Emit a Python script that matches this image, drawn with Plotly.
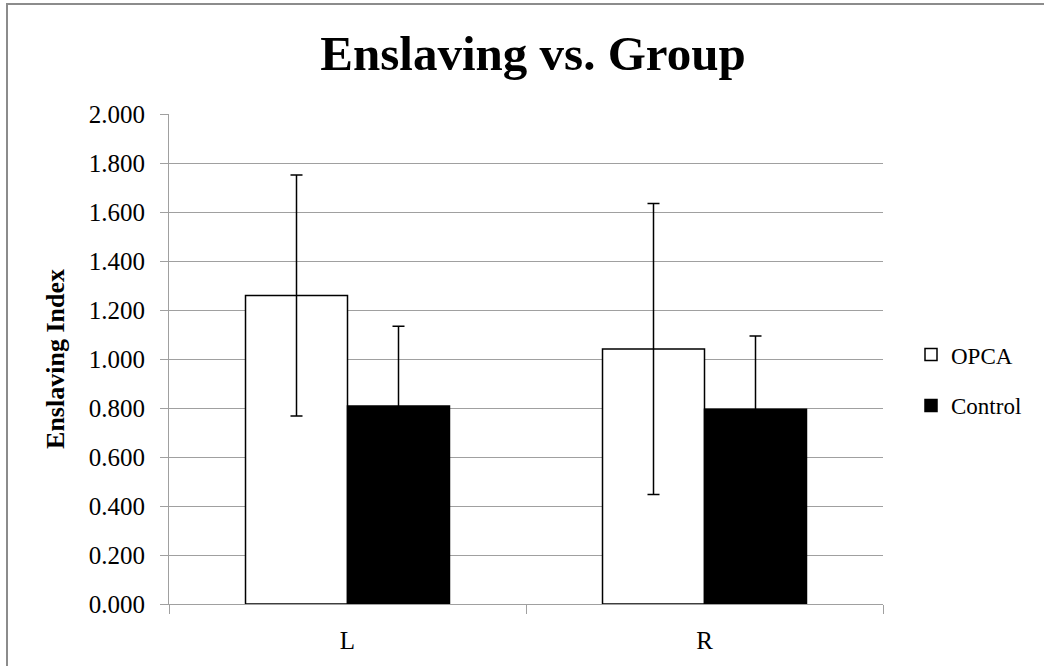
import plotly.graph_objects as go

categories = ["L", "R"]
opca_values = [1.259, 1.041]
opca_errors = [0.492, 0.594]
control_values = [0.808, 0.795]
control_errors = [0.326, 0.299]
y_ticks = [0.0, 0.2, 0.4, 0.6, 0.8, 1.0, 1.2, 1.4, 1.6, 1.8, 2.0]

FONT = "Liberation Serif"
W, H = 1044, 666
L, T, R, B = 169, 114, W - 883, H - 604
PW, PH = W - L - R, H - T - B

fig = go.Figure()
fig.add_trace(go.Bar(
    name="OPCA", x=categories, y=opca_values, legendgroup="a",
    marker=dict(color="white", line=dict(color="black", width=1.5)),
    error_y=dict(type="data", array=opca_errors, visible=True, color="black", thickness=1.5, width=6),
))
fig.add_trace(go.Bar(
    name="Control", x=categories, y=control_values, legendgroup="b",
    marker=dict(color="black", line=dict(color="black", width=1.5)),
    error_y=dict(type="data", array=control_errors, visible=True, color="black", thickness=1.5, width=6),
))

fig.update_layout(
    width=W, height=H,
    margin=dict(l=L, r=R, t=T, b=B),
    paper_bgcolor="white", plot_bgcolor="white",
    barmode="group", bargap=0.4286, bargroupgap=0,
    font=dict(family=FONT, color="black", size=24),
    title=dict(text="<b>Enslaving vs. Group</b>", x=533 / W, xanchor="center",
               y=1 - 36 / H, yanchor="top", font=dict(family=FONT, size=49, color="black")),
    legend=dict(x=(911 - 169) / PW, xanchor="left", y=0.457, yanchor="middle",
                font=dict(family=FONT, size=23, color="black"),
                tracegroupgap=18, bgcolor="rgba(0,0,0,0)"),
    showlegend=True,
)
fig.update_yaxes(
    range=[0, 2.0], tickvals=y_ticks, ticktext=[f"{v:.3f}" for v in y_ticks],
    showgrid=True, gridcolor="#a0a0a0", gridwidth=1.2,
    showline=True, linecolor="#a0a0a0", linewidth=1.2,
    ticks="outside", ticklen=8, tickcolor="#a0a0a0", tickwidth=1.2,
    ticklabelstandoff=10,
    tickfont=dict(family=FONT, size=25, color="black"),
    title=dict(text="<b>Enslaving Index</b>", font=dict(family=FONT, size=26, color="black"), standoff=16),
    zeroline=False,
)
fig.update_xaxes(
    showline=True, linecolor="#a0a0a0", linewidth=1.2,
    ticks="outside", ticklen=9, tickcolor="#a0a0a0", tickwidth=1.2,
    tickson="boundaries", ticklabelstandoff=14,
    tickfont=dict(family=FONT, size=25, color="black"),
)
# outer chart border
fig.add_shape(type="rect", xref="paper", yref="paper",
              x0=(7 - 169) / PW, x1=(1100 - 169) / PW,
              y0=(604 - 700) / PH, y1=(604 - 4) / PH,
              line=dict(color="#8c8c8c", width=2), fillcolor="rgba(0,0,0,0)", layer="below")

fig.write_html(
    "out.html",
    config={"displayModeBar": False},
    post_script="document.body.style.margin='0';document.body.style.overflow='hidden';",
)
